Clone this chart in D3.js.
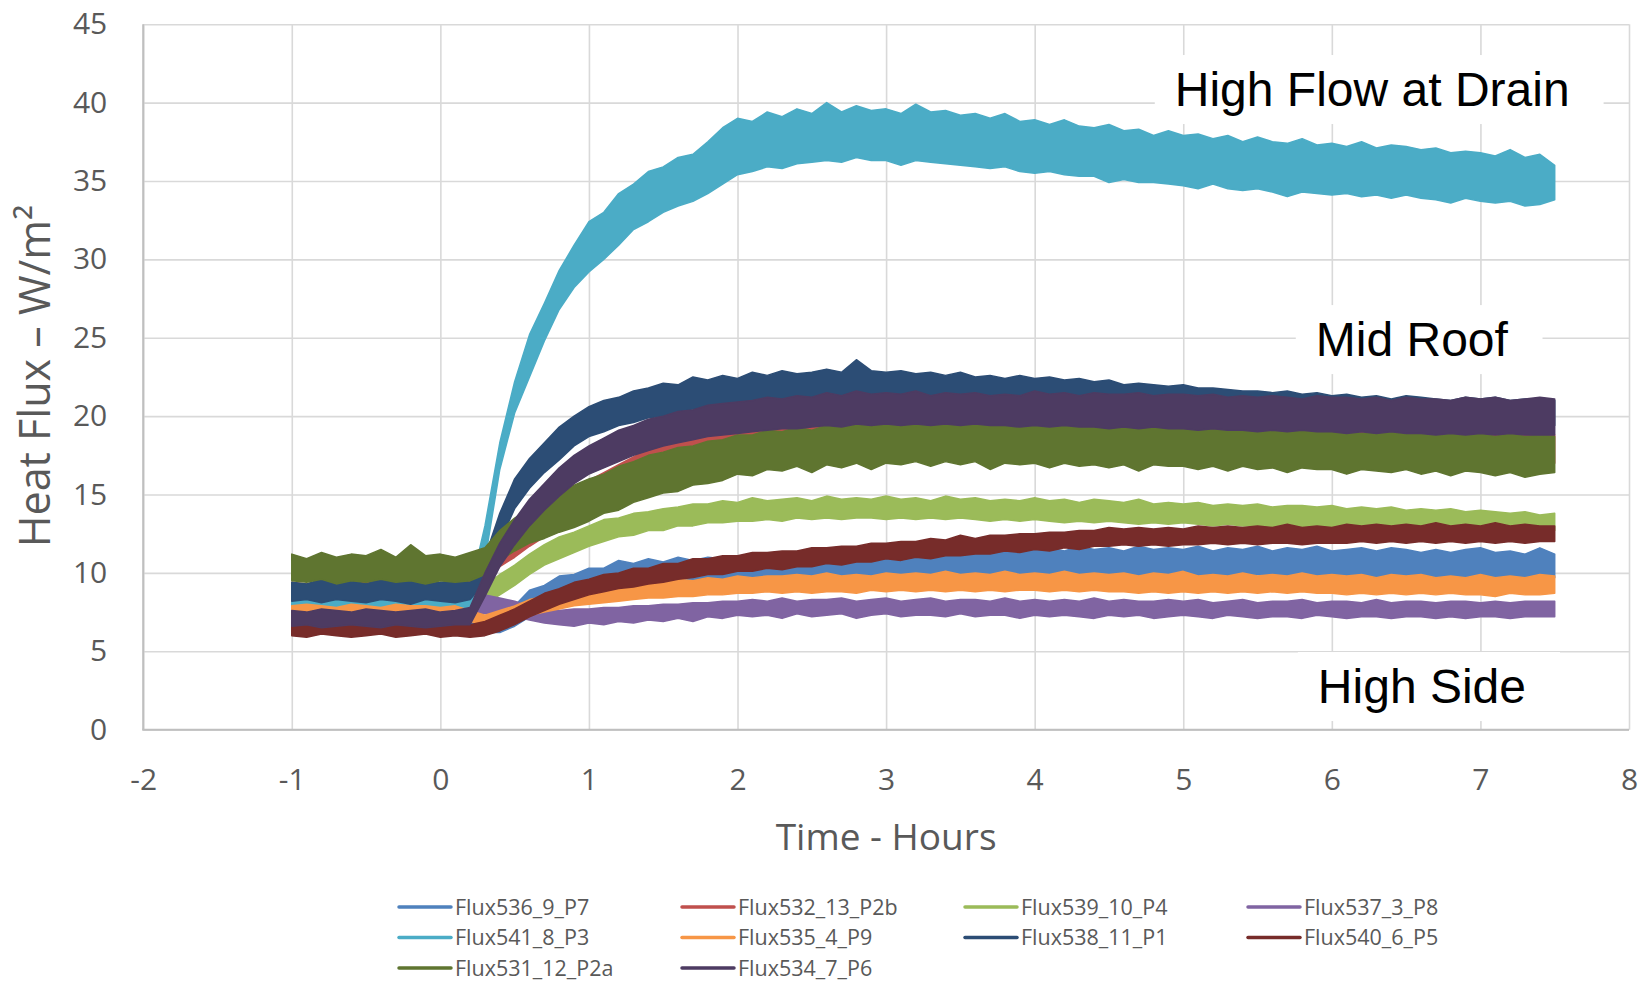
<!DOCTYPE html>
<html><head><meta charset="utf-8">
<script src="https://cdn.jsdelivr.net/npm/d3@7"></script>
<style>body{margin:0;background:#fff;}svg{display:block;}</style>
</head><body>
<svg id="chart" width="1651" height="983"></svg>
<script>
// ---------- DATA ----------
const hours = [-1,-0.9,-0.8,-0.7,-0.6,-0.5,-0.4,-0.3,-0.2,-0.1,
0,0.1,0.2,0.3,0.4,0.5,0.6,0.7,0.8,0.9,
1,1.1,1.2,1.3,1.4,1.5,1.6,1.7,1.8,1.9,
2,2.1,2.2,2.3,2.4,2.5,2.6,2.7,2.8,2.9,
3,3.1,3.2,3.3,3.4,3.5,3.6,3.7,3.8,3.9,
4,4.1,4.2,4.3,4.4,4.5,4.6,4.7,4.8,4.9,
5,5.1,5.2,5.3,5.4,5.5,5.6,5.7,5.8,5.9,
6,6.1,6.2,6.3,6.4,6.5,6.6,6.7,6.8,6.9,
7,7.1,7.2,7.3,7.4,7.5];

const xTicks = [-2,-1,0,1,2,3,4,5,6,7,8];
const yTicks = [0,5,10,15,20,25,30,35,40,45];

const seriesNames = ["Flux536_9_P7","Flux532_13_P2b","Flux539_10_P4","Flux537_3_P8","Flux541_8_P3",
                     "Flux535_4_P9","Flux538_11_P1","Flux540_6_P5","Flux531_12_P2a","Flux534_7_P6"];
const seriesColors = ["#4F81BD","#C0504D","#9BBB59","#8064A2","#4BACC6",
                      "#F79646","#2C4D75","#772C2A","#5F7530","#4D3B62"];

// upper / lower envelope of each noisy trace (W/m²), one value per 0.1 h
const hiP7 = [7.2,7.3,7.2,7.1,7.3,7.2,7.1,7.3,7.2,7.2, 7.1,7.3,7.1,7.0,7.2,7.9,8.9,9.2,9.8,9.9,
10.3,10.3,10.8,10.6,10.9,10.7,11.0,10.8,11.0,10.9, 11.1,10.9,11.2,11.0,11.2,11.1,11.3,11.1,11.3,11.2,
11.5,11.3,11.5,11.3,11.6,11.3,11.5,11.4,11.6,11.4, 11.5,11.6,11.4,11.7,11.5,11.6,11.4,11.7,11.5,11.6,
11.5,11.7,11.4,11.6,11.5,11.7,11.4,11.6,11.5,11.7, 11.4,11.5,11.6,11.4,11.6,11.5,11.3,11.5,11.3,11.5,
11.6,11.3,11.4,11.2,11.6,11.2];
const loP7 = [6.4,6.3,6.4,6.3,6.4,6.3,6.4,6.3,6.4,6.3, 6.4,6.3,6.3,6.2,6.2,6.6,7.2,7.6,8.0,8.3,
8.5,8.7,8.9,9.0,9.1,9.3,9.2,9.4,9.3,9.4, 9.3,9.4,9.4,9.5,9.4,9.5,9.5,9.6,9.5,9.6,
9.6,9.7,9.6,9.7,9.7,9.8,9.7,9.8,9.7,9.8, 9.8,9.7,9.9,9.8,9.7,9.9,9.8,9.7,9.9,9.8,
9.8,9.7,9.9,9.8,9.7,9.9,9.8,9.7,9.8,9.7, 9.8,9.7,9.8,9.7,9.6,9.8,9.7,9.6,9.7,9.6,
9.7,9.6,9.7,9.6,9.6,9.7];

const hiP2b = [9.4,9.3,9.5,9.4,9.3,9.5,9.4,9.3,9.5,9.4, 9.3,9.4,9.5,10.8,12.0,12.8,13.5,14.2,14.8,15.4,
15.9,16.4,16.9,17.4,17.9,18.2,18.4,18.6,18.8,18.9, 19.1,19.2,19.3,19.4,19.5,19.5,19.6,19.6,19.7,19.6,
19.7,19.6,19.8,19.6,19.7,19.6,19.7,19.6,19.6,19.5, 19.6,19.5,19.6,19.5,19.5,19.4,19.5,19.4,19.5,19.4,
19.4,19.3,19.4,19.3,19.3,19.2,19.3,19.2,19.2,19.1, 19.2,19.1,19.1,19.0,19.1,19.0,19.0,18.9,19.0,18.9,
18.9,18.8,18.9,18.8,18.8,18.8];
const loP2b = [8.5,8.4,8.6,8.5,8.4,8.6,8.5,8.4,8.6,8.5, 8.4,8.5,8.6,9.5,10.4,11.0,11.7,12.3,12.9,13.4,
14.0,14.5,15.0,15.5,16.0,16.5,16.7,16.9,17.1,17.2, 17.4,17.5,17.6,17.7,17.8,17.8,17.9,17.9,18.0,17.9,
18.0,17.9,18.0,17.9,18.0,17.9,17.9,17.9,17.8,17.8, 17.8,17.8,17.8,17.7,17.7,17.7,17.7,17.6,17.6,17.6,
17.6,17.5,17.5,17.5,17.5,17.4,17.4,17.4,17.4,17.3, 17.3,17.3,17.3,17.2,17.2,17.2,17.2,17.1,17.1,17.1,
17.1,17.0,17.0,17.0,17.0,17.0];

const hiP4 = [8.2,8.1,8.3,8.2,8.1,8.2,8.3,8.1,8.2,8.2, 8.1,8.2,8.4,9.2,9.9,10.5,11.2,11.8,12.3,12.6,
13.0,13.4,13.5,13.8,13.9,14.1,14.2,14.4,14.4,14.6, 14.5,14.8,14.6,14.7,14.8,14.6,14.9,14.7,14.8,14.7,
14.9,14.7,14.8,14.6,14.9,14.7,14.8,14.6,14.7,14.6, 14.8,14.6,14.7,14.5,14.7,14.6,14.5,14.7,14.4,14.5,
14.4,14.5,14.3,14.4,14.3,14.4,14.2,14.3,14.3,14.2, 14.3,14.1,14.2,14.1,14.2,14.0,14.1,14.0,14.1,13.9,
14.0,13.9,13.8,13.9,13.7,13.8];
const loP4 = [7.4,7.3,7.4,7.3,7.4,7.3,7.4,7.3,7.4,7.3, 7.4,7.4,7.5,8.0,8.6,9.2,9.9,10.5,10.9,11.3,
11.7,12.0,12.3,12.4,12.7,12.7,13.0,13.0,13.2,13.2, 13.3,13.3,13.4,13.3,13.5,13.4,13.5,13.4,13.5,13.5,
13.4,13.5,13.4,13.5,13.4,13.5,13.4,13.3,13.4,13.3, 13.4,13.3,13.2,13.3,13.2,13.3,13.2,13.1,13.2,13.1,
13.2,13.1,13.0,13.1,13.0,13.0,12.9,13.0,12.9,13.0, 12.9,12.8,12.9,12.8,12.9,12.8,12.7,12.8,12.7,12.8,
12.7,12.7,12.6,12.7,12.6,12.7];

const hiP8 = [8.3,8.2,8.4,8.3,8.2,8.3,8.4,8.2,8.3,8.3, 8.2,8.4,8.6,8.6,8.4,8.2,7.9,7.7,7.6,7.7,
7.7,7.8,7.8,7.9,7.9,8.0,8.0,8.1,8.1,8.2, 8.2,8.3,8.2,8.4,8.2,8.3,8.3,8.4,8.2,8.3,
8.4,8.2,8.3,8.4,8.2,8.3,8.3,8.2,8.4,8.2, 8.3,8.2,8.3,8.2,8.4,8.2,8.3,8.2,8.2,8.3,
8.2,8.3,8.1,8.2,8.3,8.1,8.2,8.2,8.3,8.1, 8.2,8.2,8.1,8.3,8.1,8.2,8.2,8.1,8.2,8.2,
8.1,8.2,8.1,8.2,8.2,8.2];
const loP8 = [7.5,7.4,7.5,7.4,7.5,7.4,7.5,7.4,7.5,7.4, 7.5,7.5,7.5,7.4,7.4,7.2,7.0,6.8,6.7,6.6,
6.8,6.7,6.9,6.8,7.0,6.9,7.1,6.9,7.2,7.1, 7.3,7.2,7.3,7.1,7.4,7.2,7.3,7.4,7.1,7.3,
7.4,7.2,7.3,7.3,7.2,7.4,7.2,7.3,7.3,7.1, 7.3,7.2,7.3,7.2,7.1,7.3,7.2,7.3,7.1,7.2,
7.3,7.2,7.1,7.3,7.2,7.1,7.2,7.2,7.1,7.3, 7.2,7.1,7.2,7.2,7.1,7.2,7.2,7.1,7.2,7.1,
7.2,7.2,7.1,7.2,7.2,7.2];

const hiP3 = [8.6,8.5,8.8,8.6,8.5,8.7,8.7,8.5,8.8,8.6, 8.5,8.6,8.9,13.0,18.3,22.2,25.2,27.2,29.3,30.9,
32.4,33.0,34.2,34.8,35.6,35.9,36.5,36.7,37.5,38.4, 39.0,38.8,39.4,39.1,39.6,39.3,40.0,39.4,39.8,39.5,
39.6,39.3,39.9,39.4,39.5,39.2,39.3,39.0,39.3,38.8, 38.9,38.6,38.9,38.5,38.4,38.6,38.2,38.3,37.9,38.2,
37.9,38.0,37.7,37.9,37.5,37.8,37.5,37.4,37.7,37.3, 37.4,37.2,37.5,37.1,37.3,37.2,37.0,37.1,36.8,36.9,
36.8,36.6,37.0,36.5,36.7,36.0];
const loP3 = [7.6,7.5,7.7,7.6,7.5,7.6,7.7,7.5,7.6,7.6, 7.5,7.6,7.8,10.8,16.6,20.2,22.5,24.8,26.8,28.2,
29.2,30.0,30.9,31.9,32.4,33.0,33.4,33.7,34.2,34.8, 35.4,35.6,35.9,35.8,36.1,36.2,36.3,36.2,36.5,36.3,
36.3,36.0,36.3,36.2,36.1,36.0,35.9,35.8,35.9,35.6, 35.5,35.6,35.4,35.3,35.3,34.9,35.1,34.9,34.9,34.8,
34.7,34.5,34.8,34.5,34.4,34.5,34.3,34.0,34.3,34.2, 34.1,34.2,34.0,34.1,33.9,34.1,33.9,33.8,33.6,33.9,
33.7,33.6,33.7,33.4,33.5,33.8];

const hiP9 = [7.9,8.0,7.9,7.8,8.0,7.9,7.8,8.0,7.9,7.9, 7.8,7.9,7.6,7.3,7.6,7.9,8.3,8.5,8.7,8.9,
9.1,9.1,9.3,9.3,9.5,9.4,9.6,9.5,9.7,9.6, 9.8,9.7,9.8,9.8,9.9,9.8,10.0,9.8,9.9,9.8,
10.0,9.9,10.0,9.9,10.1,9.9,10.0,9.9,10.1,9.9, 10.0,9.9,10.1,9.9,10.0,9.9,10.0,9.8,10.0,9.9,
10.1,9.8,9.9,9.8,10.0,9.8,9.9,9.8,10.0,9.8, 9.9,9.8,9.9,9.7,9.9,9.8,9.9,9.7,9.8,9.7,
9.9,9.7,9.8,9.7,9.9,9.8];
const loP9 = [7.3,7.3,7.2,7.3,7.3,7.2,7.3,7.2,7.3,7.3, 7.2,7.3,6.9,6.7,6.8,7.1,7.3,7.5,7.7,7.9,
8.0,8.1,8.2,8.3,8.4,8.4,8.5,8.5,8.6,8.6, 8.7,8.7,8.8,8.7,8.8,8.7,8.8,8.8,8.7,8.9,
8.8,8.9,8.8,8.9,8.8,8.9,8.8,8.9,8.8,8.9, 8.9,8.8,8.9,8.8,8.9,8.8,8.8,8.7,8.8,8.7,
8.8,8.7,8.8,8.7,8.8,8.7,8.8,8.7,8.8,8.7, 8.7,8.6,8.7,8.6,8.7,8.6,8.7,8.6,8.7,8.6,
8.6,8.5,8.7,8.6,8.6,8.7];

const hiP1 = [9.4,9.3,9.6,9.4,9.5,9.3,9.6,9.4,9.5,9.3, 9.4,9.5,9.4,11.0,13.8,16.0,17.3,18.3,19.3,20.0,
20.6,21.0,21.2,21.6,21.8,22.1,22.0,22.5,22.3,22.6, 22.4,22.8,22.6,22.9,22.7,22.8,23.0,22.8,23.6,22.9,
22.8,22.9,22.7,22.8,22.6,22.8,22.5,22.6,22.4,22.6, 22.4,22.5,22.3,22.4,22.2,22.3,22.0,22.1,22.0,21.9,
22.0,21.8,21.8,21.7,21.6,21.6,21.5,21.6,21.4,21.5, 21.3,21.4,21.2,21.3,21.1,21.3,21.2,21.1,21.0,21.2,
21.1,21.2,21.0,21.1,21.1,21.0];
const loP1 = [8.2,8.3,8.1,8.3,8.2,8.1,8.3,8.2,8.0,8.3, 8.2,8.1,8.3,9.4,12.0,14.1,15.4,16.4,17.2,18.1,
18.7,19.0,19.4,19.6,19.9,20.0,20.3,20.4,20.6,20.6, 20.8,20.8,21.0,20.9,21.1,21.0,21.1,21.2,21.1,21.2,
21.1,21.1,21.0,21.1,21.0,20.9,20.9,20.8,20.8,20.7, 20.8,20.7,20.6,20.7,20.6,20.5,20.5,20.4,20.5,20.4,
20.3,20.3,20.2,20.3,20.2,20.1,20.2,20.1,20.0,20.1, 20.0,19.9,20.0,19.9,19.8,19.9,19.7,19.8,19.7,19.6,
19.7,19.6,19.5,19.6,19.5,19.4];

const hiP5 = [6.8,6.9,6.7,6.8,6.9,6.8,6.7,6.9,6.8,6.8, 6.9,6.8,6.7,6.9,7.3,7.7,8.2,8.7,9.0,9.4,
9.6,9.9,10.0,10.3,10.3,10.6,10.6,10.9,10.9,11.1, 11.1,11.3,11.3,11.4,11.4,11.6,11.6,11.7,11.7,11.9,
11.9,12.0,12.0,12.2,12.1,12.4,12.2,12.4,12.4,12.5, 12.5,12.6,12.6,12.7,12.7,12.9,12.8,12.9,12.8,12.9,
12.8,13.0,12.9,13.0,12.9,13.0,12.9,13.1,12.9,13.0, 12.9,13.1,13.0,13.1,13.0,13.1,13.0,13.2,13.0,13.1,
13.0,13.2,13.0,13.1,13.0,13.0];
const loP5 = [6.0,5.9,6.1,6.0,5.9,6.0,6.1,5.9,6.0,6.1, 5.9,6.0,5.9,6.0,6.3,6.7,7.2,7.6,8.0,8.3,
8.6,8.8,9.0,9.1,9.3,9.4,9.6,9.7,9.9,9.9, 10.1,10.1,10.3,10.2,10.4,10.4,10.6,10.5,10.7,10.7,
10.9,10.8,11.0,10.9,11.1,11.1,11.2,11.2,11.4,11.3, 11.5,11.4,11.6,11.5,11.7,11.7,11.8,11.7,11.8,11.7,
11.8,11.8,11.9,11.8,11.9,11.8,11.9,11.9,11.8,11.9, 11.9,11.9,12.0,11.9,12.0,11.9,12.0,11.9,12.0,11.9,
12.0,11.9,12.0,11.9,12.0,12.0];

const hiP2a = [11.2,10.9,11.3,11.0,11.2,11.1,11.5,11.0,11.8,11.1, 11.2,11.0,11.3,11.6,12.7,13.5,14.1,14.7,15.1,15.6,
16.0,16.3,16.8,17.1,17.5,17.7,18.0,18.1,18.4,18.5, 18.8,18.8,19.1,19.0,19.3,19.1,19.4,19.3,19.5,19.4,
19.5,19.6,19.4,19.7,19.5,19.6,19.5,19.6,19.4,19.5, 19.6,19.4,19.5,19.3,19.5,19.3,19.4,19.2,19.4,19.3,
19.2,19.3,19.2,19.3,19.1,19.2,19.1,19.2,19.0,19.1, 19.0,19.1,18.9,19.0,19.0,18.9,19.0,18.8,18.9,18.8,
18.9,18.7,18.9,18.7,18.8,18.7];
const loP2a = [9.5,9.4,9.6,9.3,9.5,9.4,9.6,9.4,9.5,9.3, 9.5,9.4,9.5,9.9,10.8,11.4,11.9,12.2,12.6,12.9,
13.3,13.8,14.0,14.5,14.8,15.1,15.2,15.6,15.7,15.9, 16.3,16.2,16.6,16.5,16.8,16.4,16.9,16.7,17.0,16.6,
17.0,16.9,17.1,16.8,17.1,16.9,17.1,16.6,17.0,16.9, 17.0,16.7,17.0,16.8,16.9,16.7,16.9,16.5,16.9,16.8,
16.8,16.6,16.8,16.5,16.8,16.6,16.7,16.4,16.7,16.6, 16.6,16.3,16.6,16.5,16.4,16.6,16.3,16.5,16.2,16.5,
16.4,16.2,16.4,16.1,16.3,16.4];

const hiP6 = [7.6,7.5,7.7,7.6,7.5,7.7,7.6,7.5,7.6,7.7, 7.5,7.6,7.8,10.0,11.9,13.4,14.7,15.7,16.7,17.5,
18.1,18.6,19.1,19.4,19.8,20.0,20.3,20.4,20.7,20.8, 20.9,21.0,21.2,21.1,21.3,21.2,21.5,21.3,21.6,21.4,
21.5,21.4,21.6,21.3,21.5,21.4,21.5,21.3,21.4,21.3, 21.6,21.4,21.5,21.3,21.5,21.4,21.4,21.5,21.3,21.4,
21.4,21.3,21.4,21.2,21.3,21.2,21.3,21.2,21.1,21.3, 21.2,21.2,21.1,21.2,21.0,21.2,21.1,21.1,21.0,21.2,
21.1,21.2,21.0,21.1,21.2,21.1];
const loP6 = [6.6,6.7,6.5,6.6,6.7,6.6,6.5,6.7,6.6,6.5, 6.6,6.7,6.7,8.5,10.4,11.8,13.0,14.0,14.9,15.7,
16.3,16.7,17.1,17.5,17.8,18.1,18.3,18.5,18.7,18.8, 18.9,19.0,19.1,19.2,19.2,19.3,19.4,19.3,19.5,19.4,
19.5,19.4,19.5,19.4,19.5,19.4,19.5,19.4,19.4,19.3, 19.4,19.3,19.4,19.3,19.3,19.2,19.3,19.2,19.3,19.2,
19.2,19.1,19.2,19.1,19.1,19.0,19.1,19.0,19.1,19.0, 19.0,18.9,19.0,18.9,19.0,18.9,18.9,18.8,18.9,18.8,
18.9,18.8,18.9,18.8,18.8,18.8];

const seriesHi = [hiP7,hiP2b,hiP4,hiP8,hiP3,hiP9,hiP1,hiP5,hiP2a,hiP6];
const seriesLo = [loP7,loP2b,loP4,loP8,loP3,loP9,loP1,loP5,loP2a,loP6];

const annotationTexts = ["High Flow at Drain","Mid Roof","High Side"];
const annotationAt = [[4.943,39.78],[5.892,23.83],[5.906,1.70]]; // [hours, W/m²] of text start / baseline

const xTitle = "Time - Hours";
const yTitle = "Heat Flux \u2013 W/m\u00B2";

// ---------- DRAW ----------
const svg = d3.select("#chart");
const L = 143.2, R = 1629, T = 24.2, B = 729.7;
const x = d3.scaleLinear().domain([-2,8]).range([L,R]);
const y = d3.scaleLinear().domain([0,45]).range([B,T]);
const labelColor = "#595959";
const font = "'Open Sans', 'DejaVu Sans', sans-serif";

// gridlines
const gx = svg.append("g").attr("transform",`translate(0,${B})`)
  .call(d3.axisBottom(x).tickValues(xTicks).tickSize(-(B-T)).tickFormat(""));
gx.select(".domain").remove();
gx.selectAll("line").attr("stroke","#d9d9d9").attr("stroke-width",1.6);
const gy = svg.append("g").attr("transform",`translate(${L},0)`)
  .call(d3.axisLeft(y).tickValues(yTicks).tickSize(-(R-L)).tickFormat(""));
gy.select(".domain").remove();
gy.selectAll("line").attr("stroke","#d9d9d9").attr("stroke-width",1.6);

// axis lines
svg.append("line").attr("x1",L).attr("x2",L).attr("y1",T).attr("y2",B)
  .attr("stroke","#bfbfbf").attr("stroke-width",2);
svg.append("line").attr("x1",L-1).attr("x2",R).attr("y1",B).attr("y2",B)
  .attr("stroke","#bfbfbf").attr("stroke-width",2);

// tick labels
const ay = svg.append("g").attr("transform",`translate(${L},0)`)
  .call(d3.axisLeft(y).tickValues(yTicks).tickSize(0).tickPadding(36).tickFormat(d=>String(d)));
ay.select(".domain").remove();
ay.selectAll("text").attr("font-family",font).attr("font-size",30).attr("fill",labelColor);
const ax = svg.append("g").attr("transform",`translate(0,${B})`)
  .call(d3.axisBottom(x).tickValues(xTicks).tickSize(0).tickPadding(39).tickFormat(d=>String(d)));
ax.select(".domain").remove();
ax.selectAll("text").attr("font-family",font).attr("font-size",30).attr("fill",labelColor);

// axis titles
svg.append("text").attr("x",x(3)).attr("y",850).attr("text-anchor","middle")
  .attr("font-family",font).attr("font-size",37).attr("fill",labelColor).text(xTitle);
svg.append("text").attr("transform","translate(50,376) rotate(-90)").attr("text-anchor","middle")
  .attr("font-family",font).attr("font-size",43).attr("fill",labelColor).text(yTitle);

// layers
const boxG = svg.append("g");
const seriesG = svg.append("g");
const annG = svg.append("g");

// annotation texts, with white boxes that hide the gridlines behind them
annotationTexts.forEach((t,i)=>{
  const txt = annG.append("text").attr("x",x(annotationAt[i][0])).attr("y",y(annotationAt[i][1]))
    .attr("font-family","'Liberation Sans', Arial, sans-serif").attr("font-size",48).attr("fill","#000").text(t);
  const bb = txt.node().getBBox();
  boxG.append("rect").attr("fill","#fff")
    .attr("x",bb.x-20).attr("y",bb.y-8).attr("width",bb.width+54).attr("height",bb.height+16);
});

// series bands (drawn in legend order, later ones on top)
const band = d3.area()
  .x((d,i)=>x(hours[i]))
  .y0(d=>y(d[0]))
  .y1(d=>y(d[1]));
seriesNames.forEach((name,k)=>{
  const pts = hours.map((h,i)=>[seriesLo[k][i], seriesHi[k][i]]);
  seriesG.append("path").datum(pts)
    .attr("d",band)
    .attr("fill",seriesColors[k])
    .attr("stroke",seriesColors[k])
    .attr("stroke-width",1.5)
    .attr("stroke-linejoin","round");
});

// legend
const legend = svg.append("g");
seriesNames.forEach((name,k)=>{
  const col = k % 4, row = Math.floor(k / 4);
  const lx = 399 + col*283, ly = 907 + row*30.5;
  legend.append("line").attr("x1",lx).attr("x2",lx+52).attr("y1",ly).attr("y2",ly)
    .attr("stroke",seriesColors[k]).attr("stroke-width",3.5).attr("stroke-linecap","round");
  legend.append("text").attr("x",lx+56).attr("y",ly).attr("dy","0.35em")
    .attr("font-family",font).attr("font-size",21.5).attr("fill",labelColor).text(name);
});
</script>
</body></html>
